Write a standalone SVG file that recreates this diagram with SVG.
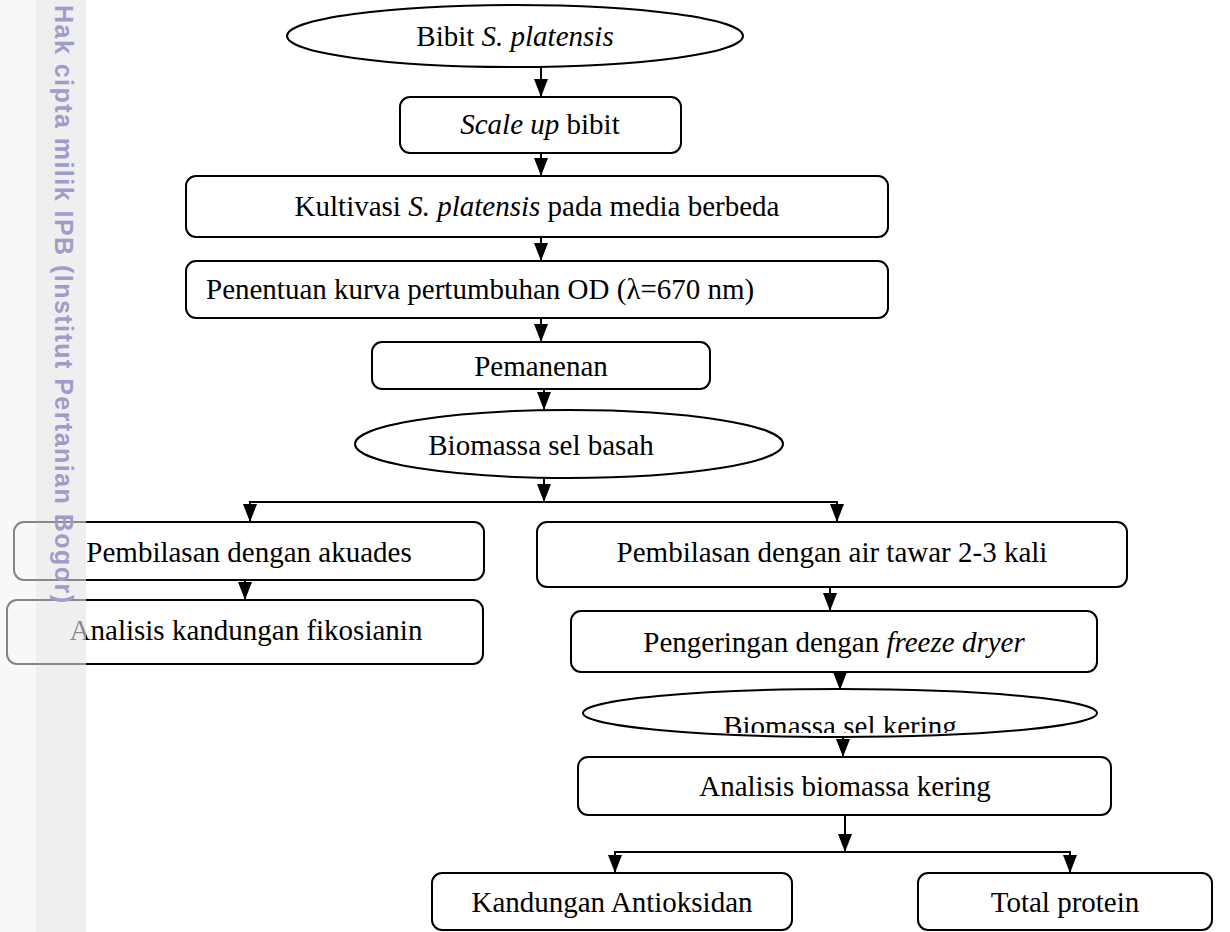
<svg xmlns="http://www.w3.org/2000/svg" width="1230" height="932" viewBox="0 0 1230 932">
<style>
.n{fill:#fff;stroke:#000;stroke-width:2}
.t{font-family:"Liberation Serif","Times New Roman",serif;font-size:29px;fill:#000;text-anchor:middle}
.c{stroke:#000;stroke-width:2;fill:none}
.wm{font-family:"Liberation Sans",Arial,sans-serif;font-weight:bold;font-size:25px;fill:#9f9bcb}
</style>
<defs>
<marker id="ah" markerWidth="18" markerHeight="14" refX="18" refY="7" orient="auto" markerUnits="userSpaceOnUse" viewBox="0 0 18 14">
<path d="M0,0 L18,7 L0,14 Z" fill="#000"/>
</marker>
<clipPath id="clipK"><rect x="560" y="690" width="560" height="43"/></clipPath>
</defs>
<rect width="1230" height="932" fill="#fff"/>
<g id="connectors">
<line class="c" x1="541" y1="67" x2="541" y2="97" marker-end="url(#ah)"/>
<line class="c" x1="541" y1="153" x2="541" y2="176" marker-end="url(#ah)"/>
<line class="c" x1="541" y1="237" x2="541" y2="261" marker-end="url(#ah)"/>
<line class="c" x1="541" y1="318" x2="541" y2="342" marker-end="url(#ah)"/>
<line class="c" x1="544" y1="389" x2="544" y2="410" marker-end="url(#ah)"/>
<line class="c" x1="544" y1="478" x2="544" y2="502" marker-end="url(#ah)"/>
<polyline class="c" points="250,512 250,502 837,502 837,512"/>
<line class="c" x1="250" y1="502" x2="250" y2="522" marker-end="url(#ah)"/>
<line class="c" x1="837" y1="502" x2="837" y2="522" marker-end="url(#ah)"/>
<line class="c" x1="245" y1="580" x2="245" y2="600" marker-end="url(#ah)"/>
<line class="c" x1="830" y1="587" x2="830" y2="611" marker-end="url(#ah)"/>
<line class="c" x1="840" y1="672" x2="840" y2="690" marker-end="url(#ah)"/>
<line class="c" x1="843" y1="737" x2="843" y2="757" marker-end="url(#ah)"/>
<line class="c" x1="845" y1="815" x2="845" y2="852" marker-end="url(#ah)"/>
<polyline class="c" points="615,862 615,852 1070,852 1070,862"/>
<line class="c" x1="615" y1="852" x2="615" y2="873" marker-end="url(#ah)"/>
<line class="c" x1="1070" y1="852" x2="1070" y2="873" marker-end="url(#ah)"/>
</g>
<g id="n-bibit">
<ellipse class="n" cx="515" cy="36" rx="228" ry="31"/>
<text class="t" x="515" y="46">Bibit <tspan font-style="italic">S. platensis</tspan></text>
</g>
<g id="n-scaleup">
<rect class="n" x="400" y="97" width="281" height="56" rx="10"/>
<text class="t" x="540" y="134"><tspan font-style="italic">Scale up</tspan> bibit</text>
</g>
<g id="n-kultivasi">
<rect class="n" x="186" y="176" width="702" height="61" rx="10"/>
<text class="t" x="537" y="216">Kultivasi <tspan font-style="italic">S. platensis</tspan> pada media berbeda</text>
</g>
<g id="n-penentuan">
<rect class="n" x="186" y="261" width="702" height="57" rx="10"/>
<text class="t" x="206" y="299" style="text-anchor:start">Penentuan kurva pertumbuhan OD (λ=670 nm)</text>
</g>
<g id="n-pemanenan">
<rect class="n" x="372" y="342" width="338" height="47" rx="10"/>
<text class="t" x="541" y="376">Pemanenan</text>
</g>
<g id="n-basah">
<ellipse class="n" cx="569" cy="444" rx="214" ry="34"/>
<text class="t" x="541" y="455">Biomassa sel basah</text>
</g>
<g id="n-akuades">
<rect class="n" x="14" y="522" width="470" height="58" rx="10"/>
<text class="t" x="249" y="562">Pembilasan dengan akuades</text>
</g>
<g id="n-fikosianin">
<rect class="n" x="7" y="600" width="476" height="64" rx="10"/>
<text class="t" x="246" y="640">Analisis kandungan fikosianin</text>
</g>
<g id="n-airtawar">
<rect class="n" x="537" y="522" width="590" height="65" rx="10"/>
<text class="t" x="832" y="562">Pembilasan dengan air tawar 2-3 kali</text>
</g>
<g id="n-pengeringan">
<rect class="n" x="571" y="611" width="526" height="61" rx="10"/>
<text class="t" x="834" y="652">Pengeringan dengan <tspan font-style="italic">freeze dryer</tspan></text>
</g>
<g id="n-kering">
<ellipse class="n" cx="840" cy="713" rx="257" ry="24"/>
<text class="t" x="840" y="736" clip-path="url(#clipK)">Biomassa sel kering</text>
</g>
<g id="n-analisis">
<rect class="n" x="578" y="757" width="533" height="58" rx="10"/>
<text class="t" x="845" y="796">Analisis biomassa kering</text>
</g>
<g id="n-antioksidan">
<rect class="n" x="432" y="873" width="360" height="57" rx="10"/>
<text class="t" x="612" y="912">Kandungan Antioksidan</text>
</g>
<g id="n-protein">
<rect class="n" x="918" y="873" width="294" height="57" rx="10"/>
<text class="t" x="1065" y="912">Total protein</text>
</g>
<g id="watermark">
<rect x="0" y="0" width="36" height="932" fill="#f3f3f3" opacity="0.55"/>
<rect x="36" y="0" width="50" height="932" fill="#e4e4e4" opacity="0.6"/>
<text class="wm" transform="translate(55,5) rotate(90)" textLength="598" lengthAdjust="spacing">Hak cipta milik IPB (Institut Pertanian Bogor)</text>
</g>
</svg>
